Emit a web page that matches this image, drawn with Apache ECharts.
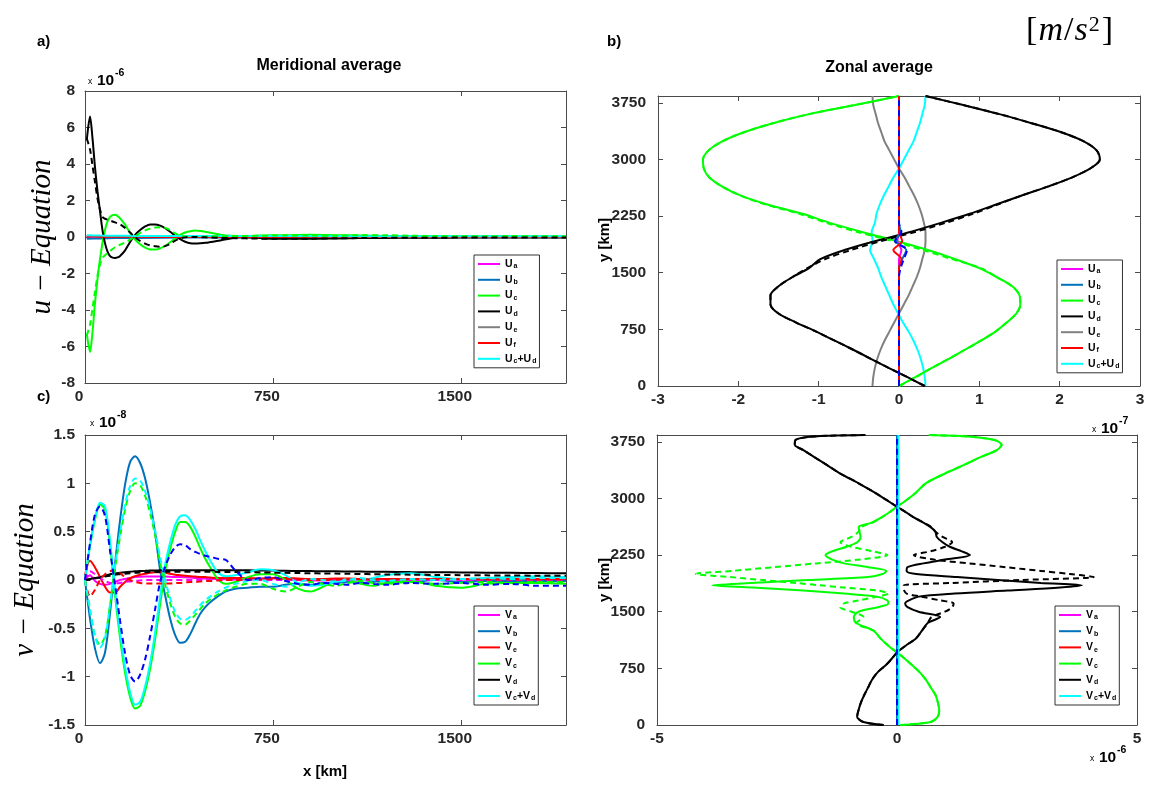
<!DOCTYPE html>
<html>
<head>
<meta charset="utf-8">
<script src="https://cdn.jsdelivr.net/npm/echarts@6/dist/echarts.min.js"></script>
<style>
  html, body { margin: 0; padding: 0; background: #ffffff; }
  #chart { width: 1153px; height: 787px; }
</style>
</head>
<body>
<div id="chart"></div>
<script>
// ---------------------------------------------------------------------------
// a) Meridional average of the u-equation terms, x in km, values in 1e-6 m/s^2
// ---------------------------------------------------------------------------
const xA = [7, 20, 30, 40, 50, 60, 70, 80, 90, 100,
            110, 120, 130, 140, 160, 180, 200, 220, 240, 260,
            280, 300, 320, 340, 360, 380, 400, 420, 440, 460,
            480, 500, 540, 580, 620, 660, 700, 750, 800, 900,
            1000, 1100, 1200, 1300, 1400, 1500, 1600, 1700, 1800, 1920];
const A_Ud = [5.3, 6.6, 5.4, 3.8, 2.5, 1.4, 0.35, -0.35, -0.8, -1.05,
              -1.13, -1.15, -1.12, -1.04, -0.73, -0.27, 0.12, 0.38, 0.58, 0.69,
              0.69, 0.62, 0.48, 0.29, 0.07, -0.12, -0.26, -0.34, -0.35, -0.34,
              -0.32, -0.28, -0.19, -0.08, -0.01, -0.03, -0.06, -0.09, -0.10, -0.10,
              -0.08, -0.06, -0.05, -0.04, -0.04, -0.03, -0.03, -0.03, -0.03, -0.03];
const A_Uc = [-5.3, -6.3, -5.2, -3.6, -2.3, -1.2, -0.3, 0.4, 0.85, 1.1,
              1.2, 1.22, 1.15, 1.02, 0.68, 0.22, -0.14, -0.4, -0.58, -0.68,
              -0.69, -0.62, -0.48, -0.29, -0.07, 0.12, 0.25, 0.32, 0.35, 0.33,
              0.29, 0.23, 0.13, 0.07, 0.05, 0.06, 0.08, 0.10, 0.10, 0.12,
              0.10, 0.08, 0.06, 0.05, 0.05, 0.04, 0.04, 0.04, 0.03, 0.03];
const A_Ud_dash = [5.4, 4.8, 3.9, 3.0, 2.1, 1.5, 1.1, 1.0, 0.95, 0.9,
                   0.85, 0.8, 0.75, 0.7, 0.5, 0.25, -0.02, -0.22, -0.36, -0.46,
                   -0.51, -0.53, -0.5, -0.38, -0.2, -0.08, -0.02, 0.0, 0.0, -0.01,
                   -0.02, -0.03, -0.05, -0.06, -0.07, -0.08, -0.09, -0.10, -0.10, -0.09,
                   -0.07, -0.06, -0.05, -0.04, -0.04, -0.03, -0.03, -0.03, -0.03, -0.03];
const A_Uc_dash = [-5.4, -4.8, -3.9, -3.0, -2.1, -1.5, -1.15, -1.0, -0.9, -0.78,
                   -0.66, -0.56, -0.48, -0.42, -0.3, -0.14, 0.03, 0.22, 0.36, 0.46,
                   0.52, 0.54, 0.5, 0.38, 0.2, 0.08, 0.03, 0.01, 0.0, 0.01,
                   0.02, 0.03, 0.04, 0.05, 0.06, 0.06, 0.07, 0.08, 0.09, 0.08,
                   0.07, 0.10, 0.10, 0.07, 0.05, 0.04, 0.04, 0.05, 0.04, 0.04];
const xAFlat = [7, 60, 120, 200, 400, 800, 1200, 1600, 1920];
const A_Ua   = [0.02, 0.01, 0, 0, 0, 0, 0, 0, 0];
const A_Ub   = [-0.10, -0.08, -0.06, -0.05, -0.03, -0.02, -0.02, -0.02, -0.02];
const A_Ue   = [0.06, 0.05, 0.04, 0.03, 0.03, 0.03, 0.03, 0.03, 0.03];
const A_Uf   = [0.03, 0.02, 0.01, 0.01, 0, 0, 0, 0, 0];
const A_UcUd = [0.10, 0.08, 0.07, 0.06, 0.05, 0.05, 0.04, 0.04, 0.04];

// ---------------------------------------------------------------------------
// c) Meridional average of the v-equation terms, values in 1e-8 m/s^2
// ---------------------------------------------------------------------------
const xC = [0, 20, 40, 60, 80, 100, 120, 140, 160, 180,
            200, 220, 240, 260, 280, 300, 320, 340, 360, 380,
            400, 420, 440, 460, 480, 500, 530, 560, 600, 650,
            700, 750, 800, 850, 900, 950, 1000, 1050, 1100, 1150,
            1200, 1300, 1400, 1500, 1600, 1700, 1800, 1920];
const C_Vb = [0, -0.40, -0.71, -0.86, -0.75, -0.34, 0.17, 0.62, 0.99, 1.22,
              1.28, 1.21, 1.05, 0.80, 0.49, 0.10, -0.16, -0.40, -0.57, -0.65,
              -0.64, -0.56, -0.45, -0.35, -0.28, -0.23, -0.17, -0.12, -0.09, -0.08,
              -0.07, -0.07, -0.05, -0.04, -0.05, -0.03, -0.03, -0.02, -0.03, -0.02,
              -0.01, -0.02, 0.00, -0.02, -0.01, -0.01, -0.01, -0.01];
const C_Vc = [0, 0.35, 0.62, 0.78, 0.73, 0.36, -0.16, -0.60, -0.96, -1.21,
              -1.33, -1.30, -1.15, -0.92, -0.61, -0.25, 0.09, 0.32, 0.50, 0.60,
              0.60, 0.55, 0.45, 0.33, 0.22, 0.13, 0.01, -0.04, -0.02, 0.03,
              0.06, 0.06, 0.00, -0.09, -0.12, -0.07, -0.01, 0.00, -0.04, -0.06,
              -0.03, -0.01, -0.06, -0.08, -0.04, -0.03, -0.03, -0.04];
const C_VcVd = [0, 0.36, 0.64, 0.80, 0.76, 0.40, -0.11, -0.54, -0.90, -1.16,
                -1.29, -1.26, -1.10, -0.86, -0.54, -0.17, 0.16, 0.39, 0.57, 0.66,
                0.67, 0.62, 0.53, 0.41, 0.30, 0.20, 0.08, 0.04, 0.05, 0.08,
                0.11, 0.10, 0.05, -0.03, -0.06, -0.05, -0.02, 0.01, 0.00, 0.02,
                0.05, 0.07, 0.03, 0.01, 0.02, 0.03, 0.04, 0.03];
const C_Vc_dash = [0, -0.32, -0.58, -0.67, -0.58, -0.26, 0.12, 0.45, 0.73, 0.92,
                   1.00, 0.98, 0.87, 0.69, 0.46, 0.18, -0.05, -0.24, -0.38, -0.45,
                   -0.46, -0.42, -0.36, -0.30, -0.24, -0.20, -0.15, -0.11, -0.07, -0.04,
                   -0.04, -0.09, -0.12, -0.07, -0.02, -0.04, -0.06, -0.03, -0.01, -0.03,
                   -0.04, -0.02, -0.04, -0.03, -0.02, -0.03, -0.02, -0.02];
const C_VcVd_dash = [0, -0.30, -0.58, -0.70, -0.60, -0.25, 0.15, 0.49, 0.78, 0.97,
                     1.05, 1.03, 0.92, 0.74, 0.51, 0.23, 0.00, -0.19, -0.33, -0.40,
                     -0.41, -0.38, -0.32, -0.26, -0.21, -0.17, -0.12, -0.08, -0.04, -0.01,
                     0.00, -0.04, -0.07, -0.03, 0.01, 0.00, -0.02, 0.00, 0.02, 0.00,
                     -0.01, 0.01, 0.00, 0.01, 0.02, 0.01, 0.02, 0.02];
const C_Vb_dash = [0, 0.38, 0.68, 0.76, 0.66, 0.30, -0.05, -0.42, -0.76, -0.98,
                   -1.05, -0.98, -0.82, -0.58, -0.30, -0.02, 0.14, 0.26, 0.34, 0.37,
                   0.36, 0.32, 0.29, 0.27, 0.25, 0.24, 0.22, 0.21, 0.10, 0.00,
                   0.02, 0.03, -0.01, -0.04, -0.05, -0.03, -0.04, -0.05, -0.03, -0.04,
                   -0.05, -0.03, -0.04, -0.03, -0.05, -0.04, -0.06, -0.06];
const C_Vd = [0, 0.01, 0.02, 0.03, 0.045, 0.06, 0.07, 0.075, 0.08, 0.085,
              0.09, 0.093, 0.095, 0.097, 0.098, 0.10, 0.10, 0.10, 0.10, 0.10,
              0.10, 0.10, 0.10, 0.10, 0.10, 0.10, 0.10, 0.10, 0.10, 0.10,
              0.098, 0.097, 0.095, 0.093, 0.092, 0.09, 0.09, 0.088, 0.087, 0.086,
              0.085, 0.082, 0.08, 0.078, 0.076, 0.074, 0.072, 0.07];
const C_Vd_dash = [0, 0.005, 0.015, 0.025, 0.035, 0.045, 0.055, 0.06, 0.065, 0.07,
                   0.075, 0.078, 0.08, 0.082, 0.083, 0.084, 0.085, 0.085, 0.085, 0.085,
                   0.085, 0.085, 0.085, 0.085, 0.085, 0.085, 0.084, 0.083, 0.082, 0.08,
                   0.078, 0.076, 0.074, 0.072, 0.07, 0.068, 0.066, 0.064, 0.062, 0.06,
                   0.058, 0.055, 0.052, 0.05, 0.048, 0.046, 0.045, 0.044];
const C_Ve = [0.05, 0.20, 0.13, 0.03, -0.07, -0.13, -0.13, -0.07, -0.02, 0.02,
              0.04, 0.055, 0.065, 0.075, 0.08, 0.08, 0.075, 0.065, 0.055, 0.05,
              0.045, 0.04, 0.035, 0.03, 0.03, 0.025, 0.02, 0.02, 0.02, 0.02,
              0.015, 0.02, 0.02, 0.015, 0.01, 0.01, 0.015, 0.015, 0.01, 0.01,
              0.01, 0.01, 0.01, 0.01, 0.01, 0.01, 0.01, 0.01];
const C_Ve_dash = [0, -0.17, -0.10, 0.00, 0.06, 0.09, 0.10, 0.07, 0.03, 0.00,
                   -0.02, -0.03, -0.035, -0.035, -0.035, -0.035, -0.035, -0.035, -0.03, -0.03,
                   -0.025, -0.02, -0.02, -0.015, -0.01, -0.01, -0.005, 0, 0, 0.005,
                   0.005, 0.01, 0.01, 0.005, 0, 0, 0.005, 0.01, 0.01, 0.005,
                   0.005, 0.01, 0.01, 0.01, 0.005, 0.005, 0.005, 0.005];
const C_Va = [0, 0.05, -0.01, -0.04, -0.05, -0.04, -0.02, 0.00, 0.01, 0.02,
              0.03, 0.033, 0.035, 0.035, 0.035, 0.035, 0.035, 0.033, 0.03, 0.03,
              0.028, 0.025, 0.02, 0.018, 0.015, 0.012, 0.01, 0.008, 0.005, 0.005,
              0.01, 0.015, 0.01, 0.0, -0.005, -0.005, 0, 0.005, 0.005, 0,
              0, 0.005, 0.01, 0.005, 0, 0, 0, 0];
const C_Va_dash = [0, 0.09, 0.06, 0.02, -0.01, -0.03, -0.035, -0.03, -0.02, -0.015,
                   -0.01, -0.005, 0, 0, 0, 0, 0, 0, 0, 0,
                   0, 0, 0, 0, 0, 0, 0, 0, 0, 0,
                   0, 0, 0, 0, 0, 0, 0, 0, 0, 0,
                   0, 0, 0, 0, 0, 0, 0, 0];

// ---------------------------------------------------------------------------
// b) Zonal average of the u-equation terms, y in km, values in 1e-7 m/s^2
// ---------------------------------------------------------------------------
const yB = [0, 120, 240, 360, 480, 600, 720, 840, 960, 1080,
            1200, 1320, 1440, 1560, 1680, 1800, 1920, 2040, 2160, 2280,
            2400, 2520, 2640, 2760, 2880, 3000, 3120, 3240, 3360, 3480,
            3600, 3720, 3840];
const B_Ud = [0.32, 0.10, -0.13, -0.35, -0.57, -0.80, -1.03, -1.28, -1.50, -1.60,
              -1.60, -1.50, -1.33, -1.12, -0.98, -0.68, -0.29, 0.14, 0.52, 0.88,
              1.20, 1.52, 1.85, 2.15, 2.38, 2.50, 2.46, 2.30, 2.02, 1.65,
              1.25, 0.80, 0.33];
const B_Ud_dash = [0.32, 0.10, -0.13, -0.35, -0.57, -0.80, -1.03, -1.28, -1.50, -1.60,
                   -1.60, -1.50, -1.33, -1.14, -0.92, -0.60, -0.22, 0.20, 0.58, 0.92,
                   1.22, 1.52, 1.85, 2.15, 2.38, 2.50, 2.46, 2.30, 2.02, 1.65,
                   1.25, 0.80, 0.33];
const B_Uc = [0.00, 0.21, 0.41, 0.62, 0.82, 1.02, 1.20, 1.34, 1.46, 1.51,
              1.50, 1.41, 1.22, 1.00, 0.70, 0.36, -0.03, -0.46, -0.86, -1.20,
              -1.63, -1.97, -2.20, -2.36, -2.43, -2.44, -2.37, -2.20, -1.93, -1.57,
              -1.12, -0.55, 0.00];
const B_Uc_dash = [0.00, 0.21, 0.41, 0.62, 0.82, 1.02, 1.20, 1.34, 1.46, 1.51,
                   1.50, 1.41, 1.22, 1.02, 0.66, 0.30, -0.08, -0.52, -0.90, -1.24,
                   -1.65, -1.97, -2.20, -2.36, -2.43, -2.44, -2.37, -2.20, -1.93, -1.57,
                   -1.12, -0.55, 0.00];
const B_Ue = [-0.33, -0.32, -0.30, -0.27, -0.23, -0.18, -0.12, -0.06, 0.00, 0.06,
              0.12, 0.17, 0.22, 0.26, 0.29, 0.32, 0.33, 0.33, 0.31, 0.28,
              0.24, 0.19, 0.13, 0.07, 0.00, -0.06, -0.12, -0.18, -0.22, -0.26,
              -0.29, -0.32, -0.33];
const B_UcUd = [0.33, 0.32, 0.30, 0.27, 0.23, 0.18, 0.12, 0.05, -0.01, -0.07,
                -0.12, -0.17, -0.22, -0.26, -0.31, -0.36, -0.33, -0.34, -0.30, -0.28,
                -0.24, -0.19, -0.13, -0.07, 0.00, 0.06, 0.12, 0.18, 0.22, 0.26,
                0.29, 0.32, 0.33];
const B_Ua = [0, 0, 0, 0, 0, 0, 0, 0, 0, 0, 0, 0, 0, 0, 0, 0.03, -0.02, 0, 0, 0,
              0, 0, 0, 0, 0, 0, 0, 0, 0, 0, 0, 0, 0];
const B_Ub = [0, 0, 0, 0, 0, 0, 0, 0, 0, 0, 0, 0, 0, 0, 0.04, 0.09, -0.04, 0.02, 0, 0,
              0, 0, 0, 0, 0, 0, 0, 0, 0, 0, 0, 0, 0];
const B_Ub_dash = [0, 0, 0, 0, 0, 0, 0, 0, 0, 0, 0, 0, 0, 0.02, 0.06, 0.10, -0.05, 0.03, 0, 0,
                   0, 0, 0, 0, 0, 0, 0, 0, 0, 0, 0, 0, 0];
const B_Uf = [0, 0, 0, 0, 0, 0, 0, 0, 0, 0, 0, 0, 0, 0, 0.03, -0.07, 0.04, 0, 0, 0,
              0, 0, 0, 0, 0, 0, 0, 0, 0, 0, 0, 0, 0];

// ---------------------------------------------------------------------------
// d) Zonal average of the v-equation terms, values in 1e-6 m/s^2
// ---------------------------------------------------------------------------
const yD = [0, 40, 110, 200, 300, 400, 500, 600, 700, 800,
            900, 960, 1050, 1150, 1250, 1350, 1430, 1500, 1560, 1610,
            1650, 1700, 1740, 1780, 1820, 1850, 1880, 1920, 1960, 2000,
            2040, 2090, 2140, 2190, 2250, 2300, 2360, 2420, 2490, 2560,
            2620, 2680, 2750, 2820, 2890, 2980, 3080, 3200, 3330, 3450,
            3550, 3640, 3710, 3770, 3810, 3830, 3840];
const D_Vd = [-0.28, -0.70, -0.83, -0.80, -0.75, -0.68, -0.60, -0.52, -0.40, -0.22,
              -0.08, 0.00, 0.18, 0.40, 0.52, 0.64, 0.90, 0.45, 0.22, 0.17,
              0.25, 0.45, 1.20, 2.30, 3.40, 3.85, 3.00, 2.10, 1.25, 0.40,
              0.20, 0.22, 0.55, 1.00, 1.52, 1.35, 1.10, 0.95, 0.83, 0.80,
              0.70, 0.55, 0.35, 0.18, 0.00, -0.22, -0.47, -0.80, -1.18, -1.48,
              -1.73, -1.95, -2.13, -2.12, -1.90, -1.40, -0.66];
const D_Vd_dash = [-0.28, -0.70, -0.83, -0.80, -0.75, -0.68, -0.60, -0.52, -0.40, -0.22,
                   -0.08, 0.00, 0.18, 0.40, 0.52, 0.64, 0.72, 1.00, 1.15, 1.18,
                   0.90, 0.50, 0.20, 0.15, 0.14, 0.14, 1.10, 2.60, 4.10, 3.60,
                   3.00, 2.26, 1.50, 0.77, 0.35, 0.70, 1.00, 1.15, 0.95, 0.80,
                   0.72, 0.55, 0.35, 0.18, 0.00, -0.22, -0.47, -0.80, -1.18, -1.48,
                   -1.73, -1.95, -2.13, -2.12, -1.90, -1.40, -0.66];
const D_Vc = [0.07, 0.70, 0.85, 0.88, 0.85, 0.80, 0.70, 0.60, 0.47, 0.30,
              0.12, 0.00, -0.18, -0.35, -0.49, -0.85, -0.90, -0.80, -0.40, -0.18,
              -0.20, -0.42, -1.10, -1.95, -3.00, -3.85, -3.05, -1.85, -0.60, -0.30,
              -0.22, -0.60, -1.10, -1.35, -1.49, -1.35, -1.05, -0.83, -0.76, -0.78,
              -0.80, -0.52, -0.32, -0.15, 0.00, 0.20, 0.40, 0.60, 1.00, 1.42,
              1.75, 2.08, 2.18, 2.05, 1.65, 1.15, 0.66];
const D_Vc_dash = [0.07, 0.70, 0.85, 0.88, 0.85, 0.80, 0.70, 0.60, 0.47, 0.30,
                   0.12, 0.00, -0.18, -0.35, -0.49, -0.85, -0.70, -0.95, -1.18, -1.10,
                   -0.80, -0.40, -0.18, -0.40, -1.10, -1.60, -2.10, -2.80, -3.50, -4.19,
                   -3.45, -2.56, -1.68, -0.79, -0.20, -0.50, -0.95, -1.18, -0.95, -0.80,
                   -0.75, -0.52, -0.32, -0.15, 0.00, 0.20, 0.40, 0.60, 1.00, 1.42,
                   1.75, 2.08, 2.18, 2.05, 1.65, 1.15, 0.66];
const yDFlat = [0, 960, 1920, 2880, 3840];
const D_Va = [0, 0, 0, 0, 0];
const D_Vb = [0, 0, 0, 0, 0];
const D_Vb_dash = [0, 0, 0, 0, 0];
const D_Ve = [0, 0, 0, 0, 0];
const D_VcVd = [0.03, 0.03, 0.03, 0.03, 0.03];

// Tick labels and legend entries
const kmTicks = [0, 750, 1500, 2250, 3000, 3750];
const uLegend = ['U_a', 'U_b', 'U_c', 'U_d', 'U_e', 'U_f', 'U_c+U_d'];
const vLegend = ['V_a', 'V_b', 'V_e', 'V_c', 'V_d', 'V_c+V_d'];

// ---------------------------------------------------------------------------
const COL = { a: '#ff00ff', b: '#0072bd', c: '#00ff00', d: '#000000',
              e: '#808080', f: '#ff0000', cd: '#00ffff', dash: '#0000ff' };
const SANS = "'Liberation Sans', Arial, Helvetica, sans-serif";
const SERIF = "'Liberation Serif', 'Times New Roman', serif";
const AXIS_COLOR = '#4a4a4a';

const along = (xs, vs) => xs.map((x, i) => [x, vs[i]]);   // profile against x
const upward = (ys, vs) => ys.map((y, i) => [vs[i], y]);  // profile against y

function curve(name, grid, pts, color, dashed) {
  return {
    type: 'line', name, xAxisIndex: 2 * grid, yAxisIndex: 2 * grid,
    data: pts, symbol: 'none', showSymbol: false, smooth: 0.3,
    lineStyle: { color, width: 2, type: dashed ? [6, 4] : 'solid' },
    itemStyle: { color }, silent: true, animation: false,
    emphasis: { disabled: true }
  };
}

const tickFont = { fontFamily: SANS, fontWeight: 'bold', fontSize: 15.5, color: '#262626' };

function axes(kind, grid, min, max, interval, labelOpts) {
  const base = {
    type: 'value', gridIndex: grid, min, max, interval,
    splitLine: { show: false },
    axisLine: { show: true, onZero: false, lineStyle: { color: AXIS_COLOR, width: 1 } },
    axisTick: { show: true, inside: true, length: 5, lineStyle: { color: AXIS_COLOR, width: 1 } }
  };
  const main = Object.assign({}, base, {
    position: kind === 'x' ? 'bottom' : 'left',
    axisLabel: Object.assign({ show: true, margin: kind === 'x' ? 6 : 10 }, tickFont, labelOpts || {})
  });
  const mirror = Object.assign({}, base, {
    position: kind === 'x' ? 'top' : 'right',
    axisLabel: { show: false }
  });
  return [main, mirror];
}
const kmLabel = v => (kmTicks.indexOf(v) >= 0 ? String(v) : '');

function subLabel(name) {
  return name.split('+').map(part => {
    const [base, sub] = part.split('_');
    return '{m|' + base + '}{s|' + sub + '}';
  }).join('{m|+}');
}
function legendBox(names, left, top, gap) {
  return {
    show: true, data: names, orient: 'vertical', left, top,
    icon: 'rect', itemWidth: 22, itemHeight: 2, itemGap: gap,
    padding: [3, 3, 3, 4], borderColor: '#333333', borderWidth: 1,
    backgroundColor: '#ffffff', borderRadius: 0, selectedMode: false,
    formatter: subLabel,
    textStyle: {
      color: '#000', fontFamily: SANS, fontWeight: 'bold', fontSize: 10.5, lineHeight: 12,
      rich: {
        m: { color: '#000', fontFamily: SANS, fontWeight: 'bold', fontSize: 10.5, lineHeight: 12 },
        s: { color: '#000', fontFamily: SANS, fontWeight: 'bold', fontSize: 7, lineHeight: 12,
             verticalAlign: 'bottom', padding: [5, 0, 0, 1] }
      }
    }
  };
}

function label(x, y, text, size, extra) {
  return Object.assign({
    type: 'text', x, y, silent: true,
    style: Object.assign({ text, fontFamily: SANS, fontWeight: 'bold', fontSize: size,
                           fill: '#000', align: 'left', verticalAlign: 'middle' },
                         (extra && extra.style) || {})
  }, extra && extra.rotation ? { rotation: extra.rotation } : {});
}
function exponent(x, y, power) {
  return [
    label(x, y + 1, 'x', 8.5, { style: { fontWeight: 'normal' } }),
    label(x + 9, y, '10', 15.5),
    label(x + 27, y - 8, power, 10.5)
  ];
}
const rotated = (x, y, text, style) =>
  label(x, y, text, style.fontSize, { rotation: Math.PI / 2, style: Object.assign({ align: 'center' }, style) });

const [xa0, xa1] = axes('x', 0, 0, 1920, 750, { formatter: kmLabel, showMaxLabel: false, padding: [0, 12, 0, 0] });
const [ya0, ya1] = axes('y', 0, -8, 8, 2);
const [xb0, xb1] = axes('x', 1, -3, 3, 1);
const [yb0, yb1] = axes('y', 1, 0, 3840, 750, { formatter: kmLabel, showMaxLabel: false, margin: 12 });
const [xc0, xc1] = axes('x', 2, 0, 1920, 750, { formatter: kmLabel, showMaxLabel: false, padding: [0, 12, 0, 0] });
const [yc0, yc1] = axes('y', 2, -1.5, 1.5, 0.5);
const [xd0, xd1] = axes('x', 3, -5, 5, 5);
const [yd0, yd1] = axes('y', 3, 0, 3840, 750, { formatter: kmLabel, showMaxLabel: false, margin: 12 });

const seriesList = [
  // a)
  curve('U_a', 0, along(xAFlat, A_Ua), COL.a),
  curve('U_b', 0, along(xAFlat, A_Ub), COL.b),
  curve('U_c', 0, along(xA, A_Uc), COL.c),
  curve('U_d', 0, along(xA, A_Ud), COL.d),
  curve('U_e', 0, along(xAFlat, A_Ue), COL.e),
  curve('U_f', 0, along(xAFlat, A_Uf), COL.f),
  curve('U_c+U_d', 0, along(xAFlat, A_UcUd), COL.cd),
  curve('U_c dashed', 0, along(xA, A_Uc_dash), COL.c, true),
  curve('U_d dashed', 0, along(xA, A_Ud_dash), COL.d, true),
  // b)
  curve('U_e', 1, upward(yB, B_Ue), COL.e),
  curve('U_c+U_d', 1, upward(yB, B_UcUd), COL.cd),
  curve('U_c', 1, upward(yB, B_Uc), COL.c),
  curve('U_d', 1, upward(yB, B_Ud), COL.d),
  curve('U_c dashed', 1, upward(yB, B_Uc_dash), COL.c, true),
  curve('U_d dashed', 1, upward(yB, B_Ud_dash), COL.d, true),
  curve('U_a', 1, upward(yB, B_Ua), COL.a),
  curve('U_b', 1, upward(yB, B_Ub), COL.b),
  curve('U_f', 1, upward(yB, B_Uf), COL.f),
  curve('U_b dashed', 1, upward(yB, B_Ub_dash), COL.dash, true),
  // c)
  curve('V_a', 2, along(xC, C_Va), COL.a),
  curve('V_b', 2, along(xC, C_Vb), COL.b),
  curve('V_e', 2, along(xC, C_Ve), COL.f),
  curve('V_c', 2, along(xC, C_Vc), COL.c),
  curve('V_d', 2, along(xC, C_Vd), COL.d),
  curve('V_c+V_d', 2, along(xC, C_VcVd), COL.cd),
  curve('V_a dashed', 2, along(xC, C_Va_dash), COL.a, true),
  curve('V_e dashed', 2, along(xC, C_Ve_dash), COL.f, true),
  curve('V_c dashed', 2, along(xC, C_Vc_dash), COL.c, true),
  curve('V_d dashed', 2, along(xC, C_Vd_dash), COL.d, true),
  curve('V_c+V_d dashed', 2, along(xC, C_VcVd_dash), COL.cd, true),
  curve('V_b dashed', 2, along(xC, C_Vb_dash), COL.dash, true),
  // d)
  curve('V_c', 3, upward(yD, D_Vc), COL.c),
  curve('V_d', 3, upward(yD, D_Vd), COL.d),
  curve('V_c dashed', 3, upward(yD, D_Vc_dash), COL.c, true),
  curve('V_d dashed', 3, upward(yD, D_Vd_dash), COL.d, true),
  curve('V_a', 3, upward(yDFlat, D_Va), COL.a),
  curve('V_e', 3, upward(yDFlat, D_Ve), COL.f),
  curve('V_b', 3, upward(yDFlat, D_Vb), COL.b),
  curve('V_c+V_d', 3, upward(yDFlat, D_VcVd), COL.cd),
  curve('V_b dashed', 3, upward(yDFlat, D_Vb_dash), COL.dash, true)
];

const texts = [
  label(37, 42, 'a)', 15),
  label(329, 66, 'Meridional average', 16, { style: { align: 'center' } }),
  ...exponent(88, 81, '-6'),
  rotated(42, 237, 'u \u2212 Equation', { fontFamily: SERIF, fontStyle: 'italic', fontWeight: 'normal', fontSize: 29 }),
  label(607, 42, 'b)', 15),
  label(879, 68, 'Zonal average', 16, { style: { align: 'center' } }),
  {
    type: 'text', x: 1113, y: 31, silent: true,
    style: {
      text: '{n|[}{i|m}{n|/}{i|s}{p|2}{n|]}', align: 'right', verticalAlign: 'middle',
      rich: {
        n: { fontFamily: SERIF, fontSize: 34, fill: '#000' },
        i: { fontFamily: SERIF, fontStyle: 'italic', fontSize: 34, fill: '#000', padding: [0, 1, 0, 1] },
        p: { fontFamily: SERIF, fontSize: 22, fill: '#000', verticalAlign: 'top', padding: [0, 2, 10, 0] }
      }
    }
  },
  rotated(605, 240, 'y [km]', { fontFamily: SANS, fontWeight: 'bold', fontSize: 15 }),
  ...exponent(1092, 429, '-7'),
  label(37, 397, 'c)', 15),
  ...exponent(90, 423, '-8'),
  rotated(25, 580, 'v \u2212 Equation', { fontFamily: SERIF, fontStyle: 'italic', fontWeight: 'normal', fontSize: 29 }),
  rotated(605, 580, 'y [km]', { fontFamily: SANS, fontWeight: 'bold', fontSize: 15 }),
  label(325, 772, 'x [km]', 15, { style: { align: 'center' } }),
  ...exponent(1090, 758, '-6')
];

const option = {
  backgroundColor: '#ffffff',
  animation: false,
  grid: [
    { left: 85, top: 91, width: 481, height: 292, containLabel: false, outerBoundsMode: 'none' },
    { left: 658, top: 96, width: 482, height: 290, containLabel: false, outerBoundsMode: 'none' },
    { left: 85, top: 435, width: 481, height: 290, containLabel: false, outerBoundsMode: 'none' },
    { left: 657, top: 435, width: 480, height: 290, containLabel: false, outerBoundsMode: 'none' }
  ],
  xAxis: [xa0, xa1, xb0, xb1, xc0, xc1, xd0, xd1],
  yAxis: [ya0, ya1, yb0, yb1, yc0, yc1, yd0, yd1],
  legend: [
    legendBox(uLegend, 474, 255, 3.8),
    legendBox(uLegend, 1057, 260, 3.8),
    legendBox(vLegend, 474, 606, 4.2),
    legendBox(vLegend, 1055, 606, 4.2)
  ],
  graphic: { elements: texts },
  series: seriesList
};

const chart = echarts.init(document.getElementById('chart'), null, { renderer: 'canvas' });
chart.setOption(option);
</script>
</body>
</html>
